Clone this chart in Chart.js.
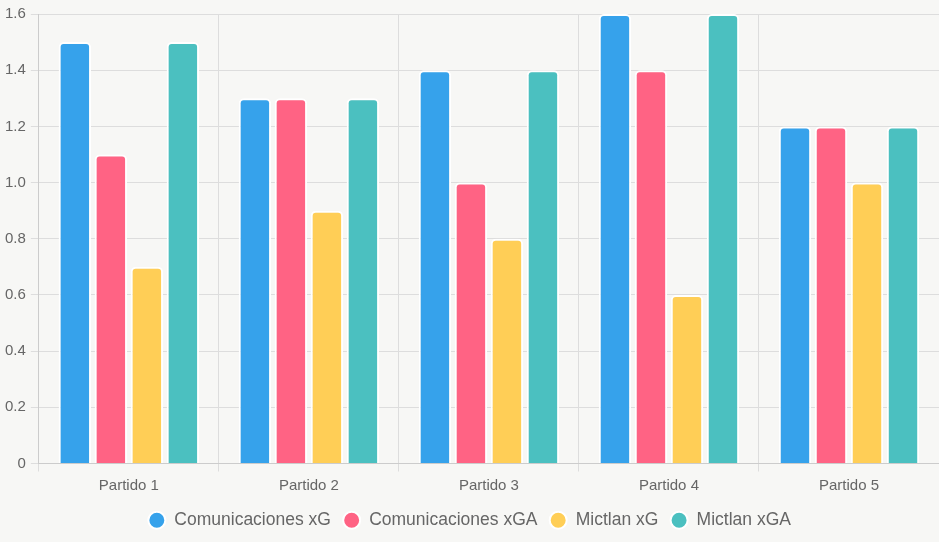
<!DOCTYPE html>
<html>
<head>
<meta charset="utf-8">
<script src="https://cdn.jsdelivr.net/npm/chart.js@4/dist/chart.umd.min.js"></script>
<style>
html,body{margin:0;padding:0;background:#f7f7f5;}
#wrap{width:939px;height:542px;position:relative;}
</style>
</head>
<body>
<div id="wrap"><canvas id="c"></canvas></div>
<script>
const categories = ["Partido 1", "Partido 2", "Partido 3", "Partido 4", "Partido 5"];
const seriesNames = ["Comunicaciones xG", "Comunicaciones xGA", "Mictlan xG", "Mictlan xGA"];
const comunicacionesXG = [1.5, 1.3, 1.4, 1.6, 1.2];
const comunicacionesXGA = [1.1, 1.3, 1.0, 1.4, 1.2];
const mictlanXG = [0.7, 0.9, 0.8, 0.6, 1.0];
const mictlanXGA = [1.5, 1.3, 1.4, 1.6, 1.2];
const yTicks = [0, 0.2, 0.4, 0.6, 0.8, 1.0, 1.2, 1.4, 1.6];

const colors = ["#36A2EB", "#FF6384", "#FFCE56", "#4BC0C0"];
const values = [comunicacionesXG, comunicacionesXGA, mictlanXG, mictlanXGA];

const bgPlugin = {
  id: 'bg',
  beforeDraw(chart) {
    const ctx = chart.ctx;
    ctx.save();
    ctx.fillStyle = '#f7f7f5';
    ctx.fillRect(0, 0, chart.width, chart.height);
    ctx.restore();
  }
};

Chart.defaults.font.family = "'Liberation Sans', Arial, sans-serif";
Chart.defaults.color = '#666';

new Chart(document.getElementById('c'), {
  type: 'bar',
  data: {
    labels: categories,
    datasets: seriesNames.map((n, i) => ({
      label: n,
      data: values[i],
      backgroundColor: colors[i],
      borderColor: '#ffffff',
      borderWidth: 2,
      borderRadius: 5
    }))
  },
  options: {
    responsive: true,
    maintainAspectRatio: false,
    animation: false,
    layout: { padding: { top: -4, bottom: 3 } },
    plugins: {
      legend: {
        position: 'bottom',
        labels: {
          usePointStyle: true,
          pointStyle: 'circle',
          boxWidth: 18,
          boxHeight: 12,
          font: { size: 17.5 },
          color: '#666',
          padding: 12
        }
      },
      tooltip: { enabled: false }
    },
    scales: {
      x: {
        grid: { color: '#dddddd', tickLength: 8 },
        border: { color: '#cccccc' },
        ticks: { font: { size: 15 }, color: '#666', padding: 5 }
      },
      y: {
        min: 0,
        max: 1.6,
        afterBuildTicks(axis) { axis.ticks = yTicks.map(v => ({ value: v })); },
        grid: { color: '#dddddd', tickLength: 8 },
        border: { color: '#cccccc' },
        ticks: {
          font: { size: 15 },
          color: '#666',
          padding: 5,
          callback: v => v === 0 ? '0' : Number(v).toFixed(1)
        }
      }
    }
  },
  plugins: [bgPlugin]
});
</script>
</body>
</html>
